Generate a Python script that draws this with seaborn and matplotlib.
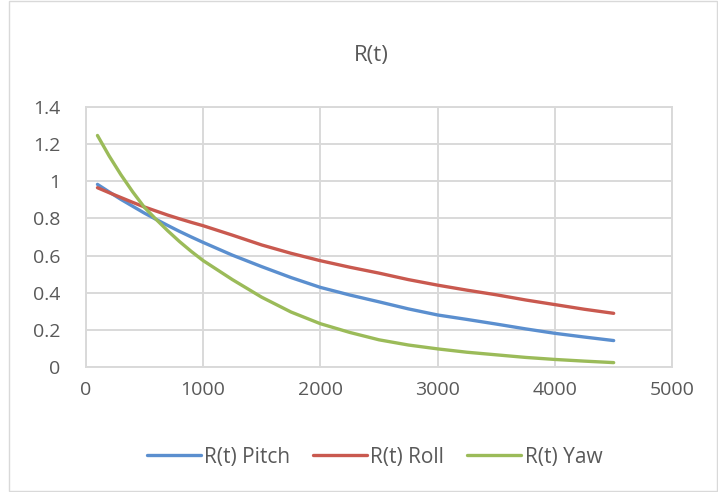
import matplotlib
matplotlib.use("Agg")
import matplotlib.pyplot as plt
import seaborn as sns
import pandas as pd
from matplotlib.patches import Rectangle
from matplotlib.ticker import FuncFormatter

t_values = [100, 200, 300, 400, 500, 600, 700, 800, 900, 1000, 1250, 1500,
            1750, 2000, 2250, 2500, 2750, 3000, 3250, 3500, 3750, 4000, 4250, 4500]
pitch = [0.984, 0.943, 0.903, 0.866, 0.829, 0.795, 0.762, 0.730, 0.700, 0.671,
         0.602, 0.540, 0.481, 0.428, 0.387, 0.350, 0.312, 0.279, 0.255, 0.230,
         0.204, 0.180, 0.160, 0.141]
roll = [0.966, 0.939, 0.913, 0.887, 0.862, 0.840, 0.818, 0.798, 0.779, 0.761,
        0.710, 0.657, 0.612, 0.572, 0.537, 0.505, 0.470, 0.440, 0.413, 0.388,
        0.360, 0.335, 0.310, 0.288]
yaw = [1.248, 1.137, 1.036, 0.944, 0.860, 0.795, 0.733, 0.675, 0.622, 0.573,
       0.470, 0.375, 0.295, 0.232, 0.185, 0.145, 0.117, 0.096, 0.078, 0.064,
       0.050, 0.039, 0.030, 0.022]
series_names = ["R(t) Pitch", "R(t) Roll", "R(t) Yaw"]
x_ticks = [0, 1000, 2000, 3000, 4000, 5000]
y_ticks = [0, 0.2, 0.4, 0.6, 0.8, 1.0, 1.2, 1.4]
title = "R(t)"

df = pd.concat([
    pd.DataFrame({"t": t_values, "R": vals, "series": name})
    for name, vals in zip(series_names, [pitch, roll, yaw])
])

sns.set_theme(style="white")
plt.rcParams["font.family"] = ["Open Sans", "DejaVu Sans"]
text_color = "#595959"
grid_color = "#D9D9D9"

fig = plt.figure(figsize=(7.18, 4.92), dpi=100)
ax = fig.add_axes([0.1194, 0.2547, 0.817, 0.5272])

palette = {"R(t) Pitch": "#5B8FCF", "R(t) Roll": "#C9594F", "R(t) Yaw": "#9BBB59"}
sns.lineplot(data=df, x="t", y="R", hue="series", palette=palette,
             linewidth=2.4, ax=ax, legend=True)

ax.set_xlim(0, 5000)
ax.set_ylim(0, 1.4)
ax.set_xticks(x_ticks)
ax.set_yticks(y_ticks)
ax.yaxis.set_major_formatter(FuncFormatter(lambda v, p: f"{v:g}"))
ax.grid(True, color=grid_color, linewidth=1.4)
ax.set_axisbelow(True)
for s in ax.spines.values():
    s.set_color(grid_color)
    s.set_linewidth(1.4)
ax.tick_params(axis="both", length=0, labelsize=14, colors=text_color)
ax.tick_params(axis="y", pad=18)
ax.tick_params(axis="x", pad=10)
ax.set_xlabel("")
ax.set_ylabel("")

handles, labels = ax.get_legend_handles_labels()
ax.get_legend().remove()
leg = fig.legend(handles, labels, loc="center", bbox_to_anchor=(0.5216, 0.071),
                 ncol=3, frameon=False, fontsize=15, handlelength=2.6,
                 handletextpad=0.15, columnspacing=1.1)
for txt in leg.get_texts():
    txt.set_color(text_color)

fig.text(0.517, 0.888, title, ha="center", va="center", fontsize=16,
         color=text_color)

fig.patches.append(Rectangle((0.012, 0.002), 0.986, 0.996, transform=fig.transFigure,
                             fill=False, edgecolor=grid_color, linewidth=1.0))

fig.savefig("out.png", dpi=100)
